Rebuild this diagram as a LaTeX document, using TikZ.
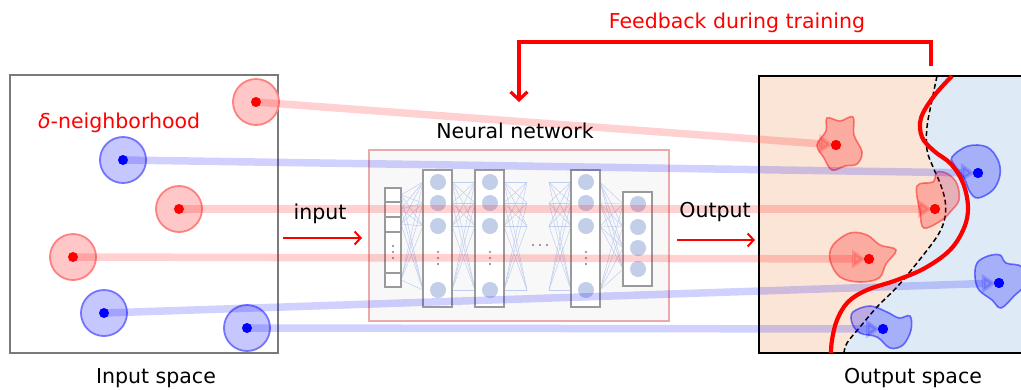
\documentclass[tikz,border=0pt]{standalone}
\usepackage{fontspec}
\setmainfont{DejaVu Sans}
\usetikzlibrary{arrows.meta}

\definecolor{peach}{HTML}{FBE5D6}
\definecolor{skyfill}{HTML}{DEEBF7}
\definecolor{neuron}{HTML}{C3CEE8}
\definecolor{wire}{HTML}{BFCDF0}
\definecolor{layerline}{HTML}{9A9A9A}
\definecolor{netframe}{HTML}{EBAAAA}
\definecolor{netfill}{HTML}{F8F8F8}
\definecolor{spaceframe}{HTML}{7A7A7A}

\tikzset{
  lbl/.style={font=\fontsize{20.5}{24}\selectfont, inner sep=0pt, anchor=base},
  ballred/.style={circle, minimum size=46pt, inner sep=0pt, fill=red!22, draw=red!50, line width=1.8pt},
  ballblue/.style={circle, minimum size=46pt, inner sep=0pt, fill=blue!22, draw=blue!55, line width=1.8pt},
  dotred/.style={circle, minimum size=10pt, inner sep=0pt, fill=red},
  dotblue/.style={circle, minimum size=10pt, inner sep=0pt, fill=blue},
  maplink/.style={line width=7.5pt, opacity=0.18, -{Triangle[length=14pt,width=18pt]}, shorten >=3pt},
  blobred/.style={fill=red, fill opacity=0.25, draw=red, draw opacity=0.45, line width=1.6pt},
  blobblue/.style={fill=blue, fill opacity=0.25, draw=blue, draw opacity=0.5, line width=1.6pt},
  layerbox/.style={draw=layerline, fill=white, line width=1.8pt},
  wireline/.style={draw=wire, line width=0.5pt},
  flowarrow/.style={red, line width=2pt, -{Straight Barb[length=6pt,width=13pt]}},
}

\begin{document}
\begin{tikzpicture}[x=1pt, y=-1pt]
\useasboundingbox (0,0) rectangle (1021,389);

% ---------- input space ----------
\draw[spaceframe, line width=2pt] (10,75) rectangle (278,353);
\node[ballred]  (r1) at (256,102) {};
\node[ballblue] (b1) at (123,160) {};
\node[ballred]  (r2) at (179,209) {};
\node[ballred]  (r3) at (73,257)  {};
\node[ballblue] (b2) at (104,313) {};
\node[ballblue] (b3) at (247,328) {};
\node[lbl, red, anchor=base west] (nbh) at (38,128) {\textit{δ}-neighborhood};
\node[lbl] (inlabel) at (156,383) {Input space};

% ---------- neural network ----------
\node[lbl] (netlabel) at (515,138) {Neural network};
\draw[netframe, fill=netfill, line width=1.4pt] (369,150) rectangle (669,321);

% wiring between layers
\foreach \a in {195,209,224,280}
  \foreach \b in {182,203,226,290}
    \draw[wireline] (401,\a) -- (423,\b);
\foreach \a in {182,203,226,290}
  \foreach \b in {182,203,226,290} {
    \draw[wireline] (452,\a) -- (475,\b);
    \draw[wireline] (504,\a) -- (527,\b);
    \draw[wireline] (549,\a) -- (571,\b);
  }
\foreach \a in {182,203,226,290}
  \foreach \b in {204,227,248,269}
    \draw[wireline] (600,\a) -- (623,\b);

% input layer
\draw[layerbox] (385,188) rectangle (401,287);
\foreach \y in {202,217,232,273}
  \draw[layerline, line width=1.4pt] (385,\y) -- (401,\y);
\foreach \y in {246,252,258}
  \fill[gray] (393,\y) circle[radius=1.2pt];

% hidden layers
\foreach \x in {438,490,586} {
  \draw[layerbox] (\x-15,170) rectangle (\x+14,307);
  \foreach \y in {182,203,226,290}
    \fill[neuron] (\x,\y) circle[radius=8pt];
  \foreach \y in {252,258,264}
    \fill[gray] (\x,\y) circle[radius=1.2pt];
}
\foreach \x in {533,540,547}
  \fill[gray] (\x,245) circle[radius=1.2pt];

% output layer
\draw[layerbox] (623,192) rectangle (652,286);
\foreach \y in {204,227,248,269}
  \fill[neuron] (638,\y) circle[radius=8pt];

% ---------- output space ----------
\begin{scope}
  \clip (759,76) rectangle (1021,353);
  \fill[skyfill] (759,76) rectangle (1021,353);
  \fill[peach] (759,76) -- plot[smooth, tension=0.6] coordinates {
    (937,76) (932,100) (927,127) (927,150) (933,167) (940,183) (945,200)
    (945,217) (938,235) (917,263) (897,287) (877,307) (860,327) (847,343) (844,353)}
    -- (759,353) -- cycle;
  \draw[black, dash pattern=on 5pt off 3pt, line width=1.5pt] plot[smooth, tension=0.6] coordinates {
    (937,76) (932,100) (927,127) (927,150) (933,167) (940,183) (945,200)
    (945,217) (938,235) (917,263) (897,287) (877,307) (860,327) (847,343) (844,353)};
  % mapped neighbourhoods
  \draw[blobred] plot[smooth cycle, tension=0.6] coordinates {
    (827,118) (840,121) (853,117) (854,135) (862,152) (857,164) (845,166) (832,170) (824,158) (817,145) (826,131)};
  \draw[blobred] plot[smooth cycle, tension=0.6] coordinates {
    (917,186) (933,182) (937,172) (948,174) (957,184) (959,200) (951,211) (942,220) (924,228) (920,212)};
  \draw[blobred] plot[smooth cycle, tension=0.6] coordinates {
    (833,245) (850,233) (867,235) (880,245) (896,250) (886,264) (879,278) (860,282) (840,277) (830,260)};
  \draw[blobblue] plot[smooth cycle, tension=0.6] coordinates {
    (952,157) (968,146) (987,147) (998,160) (1000,175) (993,190) (978,198) (970,192) (964,178) (955,166)};
  \draw[blobblue] plot[smooth cycle, tension=0.6] coordinates {
    (977,263) (988,256) (1000,255) (1006,263) (1022,267) (1024,285) (1014,296) (1001,308) (992,300) (979,290) (975,277)};
  \draw[blobblue] plot[smooth cycle, tension=0.6] coordinates {
    (853,312) (870,306) (887,312) (899,318) (910,316) (911,330) (903,345) (890,348) (877,337) (860,333) (852,323)};
\end{scope}
\draw[black, line width=2pt] (1021,76) -- (759,76) -- (759,353) -- (1021,353);
\node[lbl] (outlabel) at (913,383) {Output space};

% output points
\node[dotred]  (o1) at (836,145) {};
\node[dotblue] (o2) at (978,173) {};
\node[dotred]  (o3) at (935,209) {};
\node[dotred]  (o4) at (869,259) {};
\node[dotblue] (o5) at (999,283) {};
\node[dotblue] (o6) at (883,329) {};

% ---------- mapping links ----------
\draw[maplink, red]  (r1.center) -- (o1.center);
\draw[maplink, blue] (b1.center) -- (o2.center);
\draw[maplink, red]  (r2.center) -- (o3.center);
\draw[maplink, red]  (r3.center) -- (o4.center);
\draw[maplink, blue] (b2.center) -- (o5.center);
\draw[maplink, blue] (b3.center) -- (o6.center);

% learned decision boundary
\draw[red, line width=4.2pt] plot[smooth, tension=0.6] coordinates {
  (952,76) (934,96) (921,118) (922,137) (934,151) (951,164) (963,183) (968,207)
  (964,228) (950,250) (925,268) (897,280) (867,290) (848,302) (837,320) (832,340) (831,353)};

% point markers on top
\node[dotred]  at (r1) {};
\node[dotblue] at (b1) {};
\node[dotred]  at (r2) {};
\node[dotred]  at (r3) {};
\node[dotblue] at (b2) {};
\node[dotblue] at (b3) {};
\node[dotred]  at (o1) {};
\node[dotblue] at (o2) {};
\node[dotred]  at (o3) {};
\node[dotred]  at (o4) {};
\node[dotblue] at (o5) {};
\node[dotblue] at (o6) {};

% ---------- flow labels ----------
\node[lbl] (inword) at (320,219) {input};
\coordinate (inA) at (283,238);
\coordinate (inB) at (362,238);
\draw[flowarrow] (inA) -- (inB);
\node[lbl] (outword) at (715,217) {Output};
\coordinate (outA) at (677,240);
\coordinate (outB) at (755,240);
\draw[flowarrow] (outA) -- (outB);

% ---------- feedback loop ----------
\node[lbl, red] (fbtext) at (737,28) {Feedback during training};
\coordinate (fbstart) at (931,66);
\coordinate (fbend) at (519,102);
\draw[red, line width=3.2pt, -{Straight Barb[length=8pt,width=17pt]}]
  (fbstart) -- ++(0,-24) -| (fbend);
\end{tikzpicture}
\end{document}
